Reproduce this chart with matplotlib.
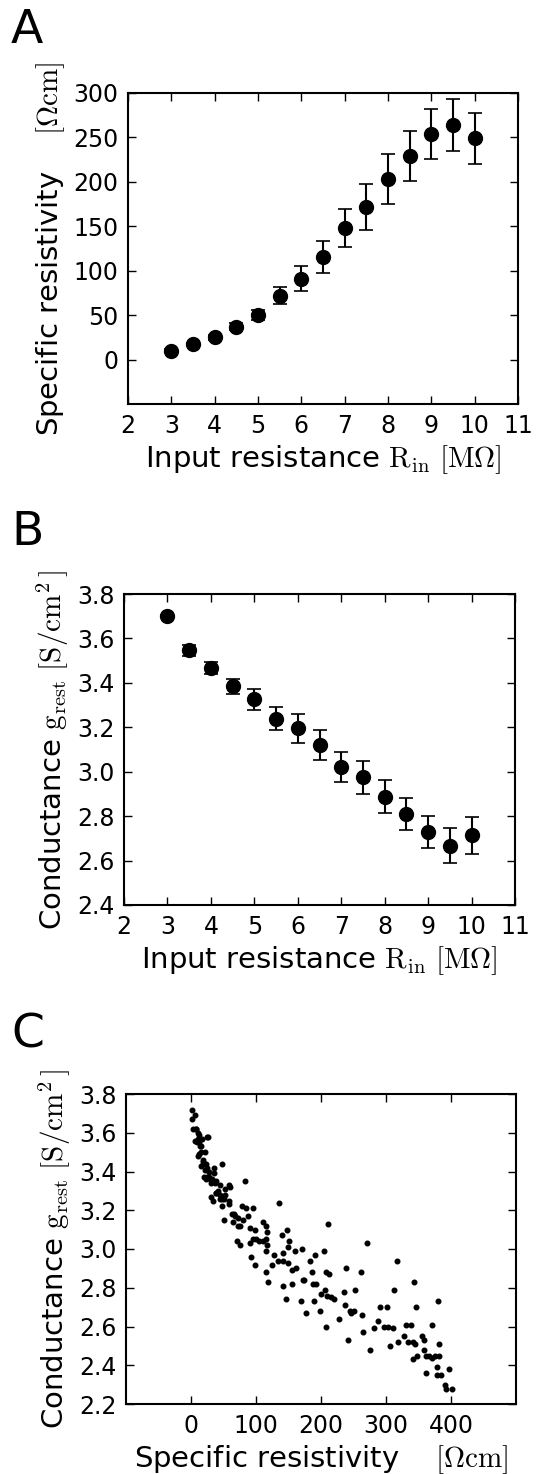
import matplotlib
matplotlib.use('Agg')
import matplotlib.pyplot as plt

plt.rcParams['mathtext.fontset'] = 'cm'
plt.rcParams['font.family'] = 'DejaVu Sans'

# panel A / B: binned means vs input resistance
rin = [3, 3.5, 4, 4.5, 5, 5.5, 6, 6.5, 7, 7.5, 8, 8.5, 9, 9.5, 10]
rho_mean = [10, 17, 25, 37, 50, 72, 91, 115, 148, 172, 203, 229, 254, 264, 249]
rho_err = [2, 2, 3, 4, 6, 10, 14, 18, 21, 26, 28, 28, 28, 29, 29]
g_mean = [3.700, 3.546, 3.468, 3.384, 3.327, 3.239, 3.195, 3.120, 3.021, 2.974,
          2.888, 2.810, 2.728, 2.667, 2.714]
g_err = [0.005, 0.025, 0.028, 0.034, 0.047, 0.052, 0.064, 0.067, 0.067, 0.075,
         0.073, 0.072, 0.073, 0.080, 0.084]

# panel C: individual cells
rho_pts = [2, 1.6, 5.8, 3, 8.4, 25, 12, 17, 14, 11, 21, 19, 23, 25, 35, 48, 20, 23, 28, 32,
           35, 38, 30, 34, 39, 45, 48, 50, 51, 58, 53, 59, 59,
           7.7, 11.3, 9, 12, 15, 12, 15, 18.5, 20.5, 22, 24, 29, 37, 45, 60, 39, 48, 53, 26,
           6, 10, 16, 27, 31, 42, 44,
           62.5, 64, 72, 82.5, 78, 80, 87, 73, 75, 71.5, 75, 90, 96, 98, 91, 95, 100, 93, 98,
           110, 111, 115, 117, 116, 117, 116, 116, 119, 127, 125, 134, 136, 140, 141, 141,
           148, 149, 151, 149, 142, 146, 155, 156, 161, 160, 171, 172, 174, 169, 177, 183,
           186, 190, 188, 193, 189, 200, 199, 204, 207, 206, 209, 211, 213, 216, 220, 208,
           228, 236, 237, 238, 241, 245, 246, 251, 253, 262, 263, 264, 271, 276, 282, 288,
           290, 297, 302, 303, 306, 310, 312, 317, 319, 327, 330, 334, 339, 341, 342, 343,
           345, 346, 348, 356, 359, 359, 362, 362, 366, 370, 371, 375, 378, 378, 380, 382,
           382, 385, 390, 392, 397, 402, 66, 85, 105, 68]
g_pts = [3.72, 3.67, 3.69, 3.62, 3.62, 3.58, 3.59, 3.57, 3.53, 3.48, 3.50, 3.46, 3.44, 3.42,
         3.42, 3.44, 3.37, 3.36, 3.37, 3.36, 3.39, 3.35, 3.27, 3.25, 3.29, 3.26, 3.22, 3.26,
         3.15, 3.33, 3.31, 3.25, 3.23,
         3.62, 3.60, 3.55, 3.55, 3.53, 3.49, 3.50, 3.45, 3.44, 3.41, 3.37, 3.36, 3.34, 3.33,
         3.32, 3.29, 3.26, 3.28, 3.58, 3.56, 3.57, 3.43, 3.40, 3.34, 3.30, 3.28,
         3.18, 3.14, 3.16, 3.35, 3.22, 3.15, 3.17, 3.12, 3.12, 3.04, 3.02, 3.11, 3.21, 3.10,
         3.03, 3.05, 3.05, 2.96, 2.92,
         3.04, 3.14, 3.12, 3.09, 3.05, 3.02, 2.99, 2.88, 2.83, 2.97, 2.92, 2.94, 3.24, 3.07,
         2.94, 2.98, 3.10, 3.01, 3.04, 2.93, 2.81, 2.74, 2.82, 2.89, 2.90, 2.99, 3.00, 2.84,
         2.84, 2.73, 2.67, 2.94, 2.88, 2.97, 2.82, 2.82, 2.73, 2.77, 2.68, 2.99, 2.88, 2.79,
         2.76, 3.13, 2.87, 2.75, 2.74, 2.60, 2.64, 2.78, 2.71, 2.90, 2.53, 2.68, 2.67, 2.68,
         2.79, 2.88, 2.66, 2.57, 3.03, 2.48, 2.59, 2.63, 2.70, 2.60, 2.70, 2.60, 2.50, 2.59,
         2.79, 2.94, 2.52, 2.55, 2.61, 2.52, 2.61, 2.43, 2.52, 2.83, 2.51, 2.70, 2.45, 2.55,
         2.53, 2.48, 2.45, 2.36, 2.45, 2.44, 2.61, 2.45, 2.39, 2.35, 2.73, 2.51, 2.45, 2.35,
         2.30, 2.28, 2.38, 2.28, 3.18, 3.21, 3.04, 3.17]

RIN_LABEL = r'Input resistance $\mathrm{R_{in}}\ [\mathrm{M\Omega}]$'
RHO_LABEL = r'Specific resistivity    $[\Omega\mathrm{cm}]$'
G_LABEL = r'Conductance $\mathrm{g_{rest}}\ [\mathrm{S/cm^2}\,]$'
LBL_FS = 21


def style(ax):
    for s in ax.spines.values():
        s.set_linewidth(1.5)
    ax.tick_params(direction='in', top=True, right=True, length=6, width=1,
                   labelsize=17, pad=7)


W, H = 537, 1474
fig = plt.figure(figsize=(W / 100, H / 100), dpi=100)

axA = fig.add_axes([128 / W, 1 - 404 / H, 390 / W, 311 / H])
axA.errorbar(rin, rho_mean, yerr=rho_err, fmt='o', color='k', ms=10,
             elinewidth=1.5, capsize=5, capthick=1.2)
axA.set_xlim(2, 11)
axA.set_ylim(-50, 300)
axA.set_xticks(range(2, 12))
axA.set_yticks(range(0, 301, 50))
axA.set_xlabel(RIN_LABEL, fontsize=LBL_FS)
axA.set_ylabel(RHO_LABEL, fontsize=LBL_FS)
style(axA)

axB = fig.add_axes([124 / W, 1 - 905 / H, 391 / W, 311 / H])
axB.errorbar(rin, g_mean, yerr=g_err, fmt='o', color='k', ms=10,
             elinewidth=1.5, capsize=5, capthick=1.2)
axB.set_xlim(2, 11)
axB.set_ylim(2.4, 3.8)
axB.set_xticks(range(2, 12))
axB.set_yticks([2.4, 2.6, 2.8, 3.0, 3.2, 3.4, 3.6, 3.8])
axB.set_yticklabels(['2.4', '2.6', '2.8', '3.0', '3.2', '3.4', '3.6', '3.8'])
axB.set_xlabel(RIN_LABEL, fontsize=LBL_FS)
axB.set_ylabel(G_LABEL, fontsize=LBL_FS)
style(axB)

axC = fig.add_axes([126 / W, 1 - 1404 / H, 390 / W, 310 / H])
axC.plot(rho_pts, g_pts, 'o', color='k', ms=3.3)
axC.set_xlim(-100, 500)
axC.set_ylim(2.2, 3.8)
axC.set_xticks([0, 100, 200, 300, 400])
axC.set_yticks([2.2, 2.4, 2.6, 2.8, 3.0, 3.2, 3.4, 3.6, 3.8])
axC.set_yticklabels(['2.2', '2.4', '2.6', '2.8', '3.0', '3.2', '3.4', '3.6', '3.8'])
axC.set_xlabel(RHO_LABEL, fontsize=LBL_FS)
axC.set_ylabel(G_LABEL, fontsize=LBL_FS)
style(axC)

for lbl, yb in [('A', 43), ('B', 545), ('C', 1047)]:
    fig.text(11 / W, 1 - yb / H, lbl, fontsize=34, va='baseline', ha='left')

fig.savefig('out.png', dpi=100)
